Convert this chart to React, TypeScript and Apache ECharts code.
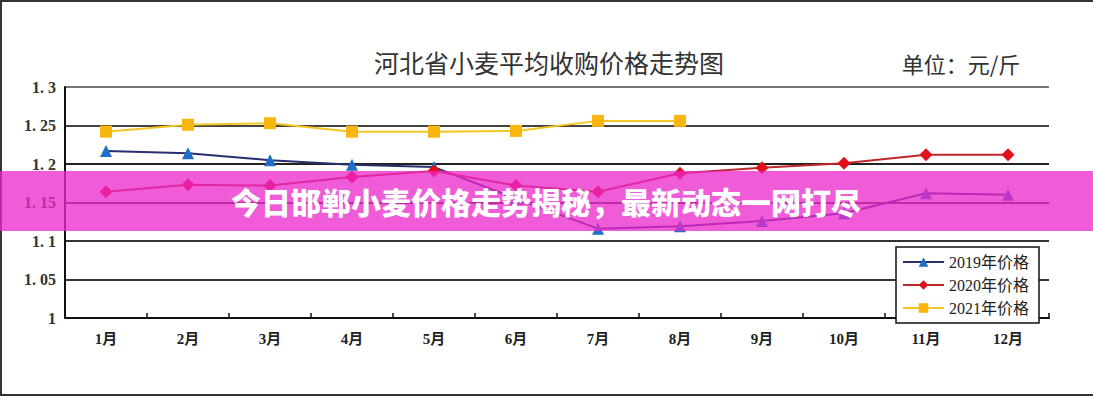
import React, { useEffect, useRef } from "react";
import * as echarts from "echarts";

const months = ["1月", "2月", "3月", "4月", "5月", "6月", "7月", "8月", "9月", "10月", "11月", "12月"];
const price2019 = [1.217, 1.214, 1.205, 1.199, 1.196, 1.155, 1.116, 1.119, 1.126, 1.136, 1.162, 1.16];
const price2020 = [1.164, 1.173, 1.172, 1.183, 1.191, 1.172, 1.164, 1.188, 1.195, 1.201, 1.212, 1.212];
const price2021 = [1.242, 1.251, 1.253, 1.242, 1.242, 1.243, 1.256, 1.256];
const yTicks = [1, 1.05, 1.1, 1.15, 1.2, 1.25, 1.3];
const seriesNames = ["2019年价格", "2020年价格", "2021年价格"];
const chartTitle = "河北省小麦平均收购价格走势图";
const unitText = "单位：元/斤";
const bannerText = "今日邯郸小麦价格走势揭秘，最新动态一网打尽";

const SERIF = "'Liberation Serif', 'DejaVu Serif', 'Noto Sans CJK SC', serif";
const CJK = "'Noto Sans CJK SC', sans-serif";

function fmtTick(v: number): string {
  if (Math.abs(v - 1) < 1e-9) return "1";
  const s = String(+v.toFixed(2));
  return s.replace(".", ". ");
}

export default function App() {
  const ref = useRef<HTMLDivElement>(null);
  useEffect(() => {
    if (!ref.current) return;
    const chart = echarts.init(ref.current, undefined, { renderer: "svg" });
    const option: any = {
      animation: false,
      backgroundColor: "#ffffff",
      grid: { left: 65, right: 44, top: 87, bottom: 82, containLabel: false },
      xAxis: {
        type: "category",
        data: months,
        boundaryGap: true,
        axisLine: { show: true, lineStyle: { color: "#111", width: 2 } },
        axisTick: { show: true, inside: true, length: 5, lineStyle: { color: "#111", width: 1.5 } },
        axisLabel: {
          margin: 13,
          fontFamily: SERIF,
          fontSize: 15,
          fontWeight: "bold",
          color: "#222",
        },
        splitLine: { show: false },
      },
      yAxis: {
        type: "value",
        min: yTicks[0],
        max: yTicks[yTicks.length - 1],
        interval: 0.05,
        axisLine: { show: true, lineStyle: { color: "#111", width: 2 } },
        axisTick: { show: false },
        axisLabel: {
          formatter: fmtTick,
          margin: 9,
          fontFamily: SERIF,
          fontSize: 16,
          fontWeight: "bold",
          color: "#333",
        },
        splitLine: {
          show: true,
          lineStyle: {
            width: 1.8,
            color: ["#222", "#333", "#333", "#333", "#222", "#444", "#777"],
          },
        },
      },
      legend: {
        data: seriesNames,
        orient: "vertical",
        left: 896,
        top: 247,
        backgroundColor: "#fff",
        borderColor: "#111",
        borderWidth: 1.5,
        borderRadius: 0,
        padding: [7, 10, 7, 6],
        itemWidth: 41,
        itemHeight: 12,
        itemGap: 7,
        itemStyle: { borderWidth: 0 },
        textStyle: { fontFamily: SERIF, fontSize: 16, color: "#222" },
      },
      graphic: [
        {
          type: "rect",
          z: -10,
          silent: true,
          shape: { x: 1, y: 1, width: 1100, height: 394 },
          style: { fill: "none", stroke: "#333", lineWidth: 2 },
        },
        {
          type: "text",
          z: 10,
          style: {
            text: chartTitle,
            x: 549,
            y: 62,
            font: `normal 25px ${CJK}`,
            fill: "#333",
            align: "center",
            verticalAlign: "middle",
            textAlign: "center",
            textVerticalAlign: "middle",
          },
        },
        {
          type: "text",
          z: 10,
          style: {
            text: unitText,
            x: 961,
            y: 63,
            font: `normal 22px ${CJK}`,
            fill: "#333",
            align: "center",
            verticalAlign: "middle",
            textAlign: "center",
            textVerticalAlign: "middle",
          },
        },
        {
          type: "rect",
          z: 100,
          silent: true,
          shape: { x: 0, y: 171, width: 1093, height: 60 },
          style: { fill: "rgba(235,40,202,0.76)" },
        },
        {
          type: "text",
          z: 101,
          style: {
            text: bannerText,
            x: 546,
            y: 201,
            font: `900 30px ${CJK}`,
            fill: "#ffffff",
            align: "center",
            verticalAlign: "middle",
            textAlign: "center",
            textVerticalAlign: "middle",
          },
        },
      ],
      series: [
        {
          name: seriesNames[0],
          type: "line",
          data: price2019,
          symbol: "triangle",
          symbolSize: 12,
          lineStyle: { color: "#27306e", width: 2 },
          itemStyle: { color: "#1f6fc6" },
        },
        {
          name: seriesNames[1],
          type: "line",
          data: price2020,
          symbol: "diamond",
          symbolSize: 13,
          lineStyle: { color: "#c0262c", width: 2 },
          itemStyle: { color: "#e3101c" },
        },
        {
          name: seriesNames[2],
          type: "line",
          data: price2021,
          symbol: "rect",
          symbolSize: 12,
          lineStyle: { color: "#f3c623", width: 2 },
          itemStyle: { color: "#f9b70e" },
        },
      ],
    };
    chart.setOption(option);
    return () => chart.dispose();
  }, []);
  return (
    <div
      ref={ref}
      style={{ position: "absolute", left: 0, top: 0, width: 1093, height: 400 }}
    />
  );
}
